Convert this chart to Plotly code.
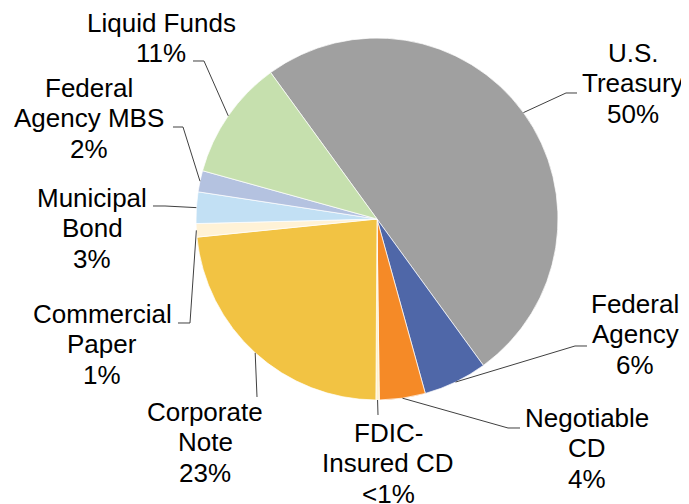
import math
import plotly.graph_objects as go

# ---- data ----
categories = ["U.S. Treasury", "Federal Agency", "Negotiable CD", "FDIC-Insured CD",
              "Corporate Note", "Commercial Paper", "Municipal Bond",
              "Federal Agency MBS", "Liquid Funds"]
values = [50.0, 5.7, 4.1, 0.3, 23.3, 1.2, 2.8, 1.9, 10.7]
pct_labels = ["50%", "6%", "4%", "<1%", "23%", "1%", "3%", "2%", "11%"]
label_lines = [["U.S.", "Treasury"], ["Federal", "Agency"], ["Negotiable", "CD"],
               ["FDIC-", "Insured CD"], ["Corporate", "Note"], ["Commercial", "Paper"],
               ["Municipal", "Bond"], ["Federal", "Agency MBS"], ["Liquid Funds"]]
colors = ["#A0A0A0", "#4F67A8", "#F58A27", "#FFF2CC", "#F2C343",
          "#FFF2D6", "#C2E0F4", "#B4C2E0", "#C6E0AE"]

# ---- layout ----
W, H = 689, 504
OFF = 8  # page body margin
CX, CY, R = 377, 219, 181
ROT = -36
FONT = 26
LS = 30.5

# label block: center x, first baseline y (px, page coords)
label_pos = [(633, 62), (635, 313), (587, 427), (388, 442), (205, 421),
             (102, 323), (92, 207), (89, 97), (161, 32)]
# leader lines: elbow point, end point (px, page coords)
leader_pts = [[(566, 93), (577, 93)], [(575, 346), (587, 346)], [(508, 428), (520, 428)],
              [(378, 415)], [(257, 397)], [(190, 323), (178, 323)],
              [(165, 206), (153, 206)], [(183, 127), (173, 127)], [(204, 61), (193, 61)]]

FW, FH = W - OFF, H - OFF


def px(x):
    return (x - OFF) / FW


def py(y):
    return 1 - (y - OFF) / FH


fig = go.Figure(go.Pie(
    labels=categories, values=values, sort=False, direction="clockwise",
    rotation=ROT, textinfo="none", hoverinfo="label+percent",
    marker=dict(colors=colors, line=dict(color="white", width=0.7)),
    domain=dict(x=[px(CX - R), px(CX + R)], y=[py(CY + R), py(CY - R)]),
))

total = sum(values)
cum = 0.0
shapes = []
annotations = []
for i, v in enumerate(values):
    mid = math.radians(ROT + 360 * (cum + v / 2) / total)
    cum += v
    sx = CX + R * math.sin(mid)
    sy = CY - R * math.cos(mid)
    pts = [(sx, sy)] + leader_pts[i]
    path = "M " + " L ".join(f"{px(a):.5f},{py(b):.5f}" for a, b in pts)
    shapes.append(dict(type="path", path=path, xref="paper", yref="paper",
                       line=dict(color="#404040", width=1)))
    lines = label_lines[i] + [pct_labels[i]]
    x0, b0 = label_pos[i]
    for j, t in enumerate(lines):
        base = b0 + j * LS
        annotations.append(dict(text=t, x=px(x0), y=py(base - 0.3465 * FONT),
                                xref="paper", yref="paper", xanchor="center",
                                yanchor="middle", showarrow=False,
                                font=dict(family="Liberation Sans, Arial", size=FONT,
                                          color="#000000")))

fig.update_layout(width=FW, height=FH, margin=dict(l=0, r=0, t=0, b=0),
                  paper_bgcolor="white", plot_bgcolor="white", showlegend=False,
                  shapes=shapes, annotations=annotations)

fig.write_html("out.html")
